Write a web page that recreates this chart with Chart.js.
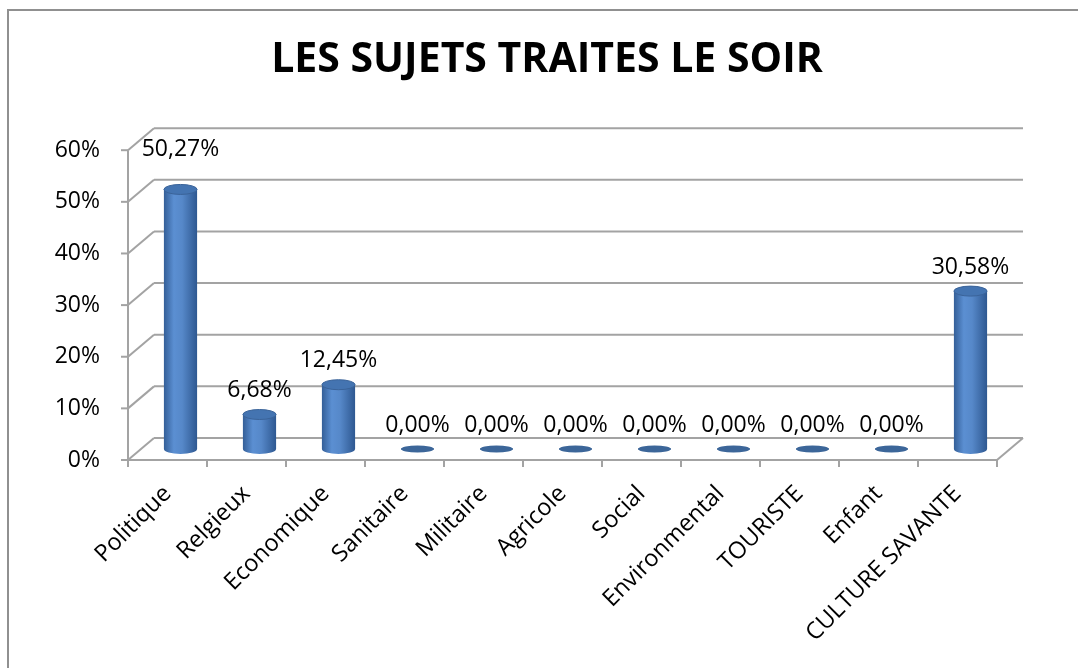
<!DOCTYPE html>
<html>
<head>
<meta charset="utf-8">
<script src="https://cdn.jsdelivr.net/npm/chart.js@4.4.0/dist/chart.umd.min.js"></script>
<style>
  html, body { margin: 0; padding: 0; background: #fff; }
  #cadre { position: relative; width: 1078px; height: 668px; overflow: hidden; }
  #cadre canvas { position: absolute; left: 0; top: 0; }
  #bord { position: absolute; left: 7px; top: 9px; right: -10px; bottom: -10px;
          border-left: 2px solid #909090; border-top: 2px solid #909090; pointer-events: none; }
</style>
</head>
<body>
<div id="cadre">
  <canvas id="graphe" width="1078" height="668"></canvas>
  <div id="bord"></div>
</div>
<script>
// Donnees
const titre = 'LES SUJETS TRAITES LE SOIR';
const categories = ['Politique', 'Relgieux', 'Economique', 'Sanitaire', 'Militaire', 'Agricole',
  'Social', 'Environmental', 'TOURISTE', 'Enfant', 'CULTURE SAVANTE'];
const pourcentages = [50.27, 6.68, 12.45, 0, 0, 0, 0, 0, 0, 0, 30.58];
const graduations = [0, 10, 20, 30, 40, 50, 60];

// profondeur de la vue 3D (en px)
const PROF_X = 26, PROF_Y = -22;
const POLICE = 'Open Sans';

function trait(ctx, x1, y1, x2, y2) {
  ctx.beginPath();
  ctx.moveTo(x1, y1);
  ctx.lineTo(x2, y2);
  ctx.stroke();
}

function formatPct(v) {
  return v.toFixed(2).replace('.', ',') + '%';
}

const fond3d = {
  id: 'fond3d',
  beforeDatasetsDraw(chart) {
    const { ctx, chartArea: a, scales: { x, y } } = chart;
    ctx.save();
    ctx.strokeStyle = '#a3a3a3';
    ctx.lineWidth = 2;
    graduations.forEach(g => {
      const py = y.getPixelForValue(g);
      trait(ctx, a.left - 7, py, a.left, py);
      trait(ctx, a.left, py, a.left + PROF_X, py + PROF_Y);
      trait(ctx, a.left + PROF_X, py + PROF_Y, a.right + PROF_X, py + PROF_Y);
    });
    trait(ctx, a.left, a.top, a.left, a.bottom);
    trait(ctx, a.left, a.bottom, a.right, a.bottom);
    trait(ctx, a.right, a.bottom, a.right + PROF_X, a.bottom + PROF_Y);
    for (let i = 0; i <= categories.length; i++) {
      const px = x.getPixelForValue(i - 0.5);
      trait(ctx, px, a.bottom, px, a.bottom + 7);
    }
    ctx.restore();
  },
  afterDatasetsDraw(chart) {
    const { ctx } = chart;
    const meta = chart.getDatasetMeta(0);
    ctx.save();
    meta.data.forEach((barre, i) => {
      const cx = barre.x + PROF_X / 2;
      const haut = barre.y + PROF_Y / 2;
      const bas = barre.base + PROF_Y / 2;
      const rx = barre.width / 2;
      const ry = 5;
      if (bas - haut < 1) {
        ctx.fillStyle = '#3c6699';
        ctx.beginPath();
        ctx.ellipse(cx, bas, rx, 3.5, 0, 0, Math.PI * 2);
        ctx.fill();
      } else {
        const grad = ctx.createLinearGradient(cx - rx, 0, cx + rx, 0);
        grad.addColorStop(0, '#345f98');
        grad.addColorStop(0.3, '#5b8fd2');
        grad.addColorStop(0.55, '#5688c9');
        grad.addColorStop(1, '#2e5891');
        ctx.fillStyle = grad;
        ctx.beginPath();
        ctx.moveTo(cx - rx, haut);
        ctx.lineTo(cx - rx, bas);
        ctx.ellipse(cx, bas, rx, ry, 0, Math.PI, 0, true);
        ctx.lineTo(cx + rx, haut);
        ctx.closePath();
        ctx.fill();
        ctx.fillStyle = '#4474b1';
        ctx.strokeStyle = '#3a6399';
        ctx.lineWidth = 1;
        ctx.beginPath();
        ctx.ellipse(cx, haut, rx, ry, 0, 0, Math.PI * 2);
        ctx.fill();
        ctx.stroke();
      }
      // etiquette de valeur
      ctx.fillStyle = '#000';
      ctx.font = '23px "' + POLICE + '"';
      ctx.textAlign = 'center';
      ctx.textBaseline = 'middle';
      const lift = i === 0 ? 40 : 24;
      ctx.fillText(formatPct(pourcentages[i]), cx, haut - lift);
    });
    ctx.restore();
  }
};

new Chart(document.getElementById('graphe'), {
  type: 'bar',
  data: {
    labels: categories,
    datasets: [{
      data: pourcentages,
      backgroundColor: 'rgba(0,0,0,0)',
      borderWidth: 0,
      barPercentage: 0.42,
      categoryPercentage: 1
    }]
  },
  options: {
    responsive: false,
    animation: false,
    devicePixelRatio: 1,
    layout: { padding: { left: 16, right: 0, top: 0, bottom: 0 } },
    plugins: {
      legend: { display: false },
      tooltip: { enabled: false },
      title: {
        display: true,
        text: titre,
        color: '#000',
        font: { family: POLICE, size: 41, weight: 'bold', lineHeight: 1.2 },
        padding: { top: 36, bottom: 65 }
      }
    },
    scales: {
      x: {
        grid: { display: false, drawTicks: false },
        border: { display: false },
        ticks: {
          color: '#000',
          font: { family: POLICE, size: 23.5 },
          minRotation: 45, maxRotation: 45,
          autoSkip: false,
          padding: 20
        },
        afterFit(s) { s.height = 208; }
      },
      y: {
        min: 0, max: 60,
        grid: { display: false, drawTicks: false },
        border: { display: false },
        ticks: {
          stepSize: 10,
          color: '#000',
          font: { family: POLICE, size: 23 },
          padding: 28,
          callback: v => v + '%'
        },
        afterFit(s) { s.width = 112; }
      },
      y2: {
        position: 'right',
        grid: { display: false, drawTicks: false },
        border: { display: false },
        ticks: { display: false },
        afterFit(s) { s.width = 81; }
      }
    }
  },
  plugins: [fond3d]
});
</script>
</body>
</html>
